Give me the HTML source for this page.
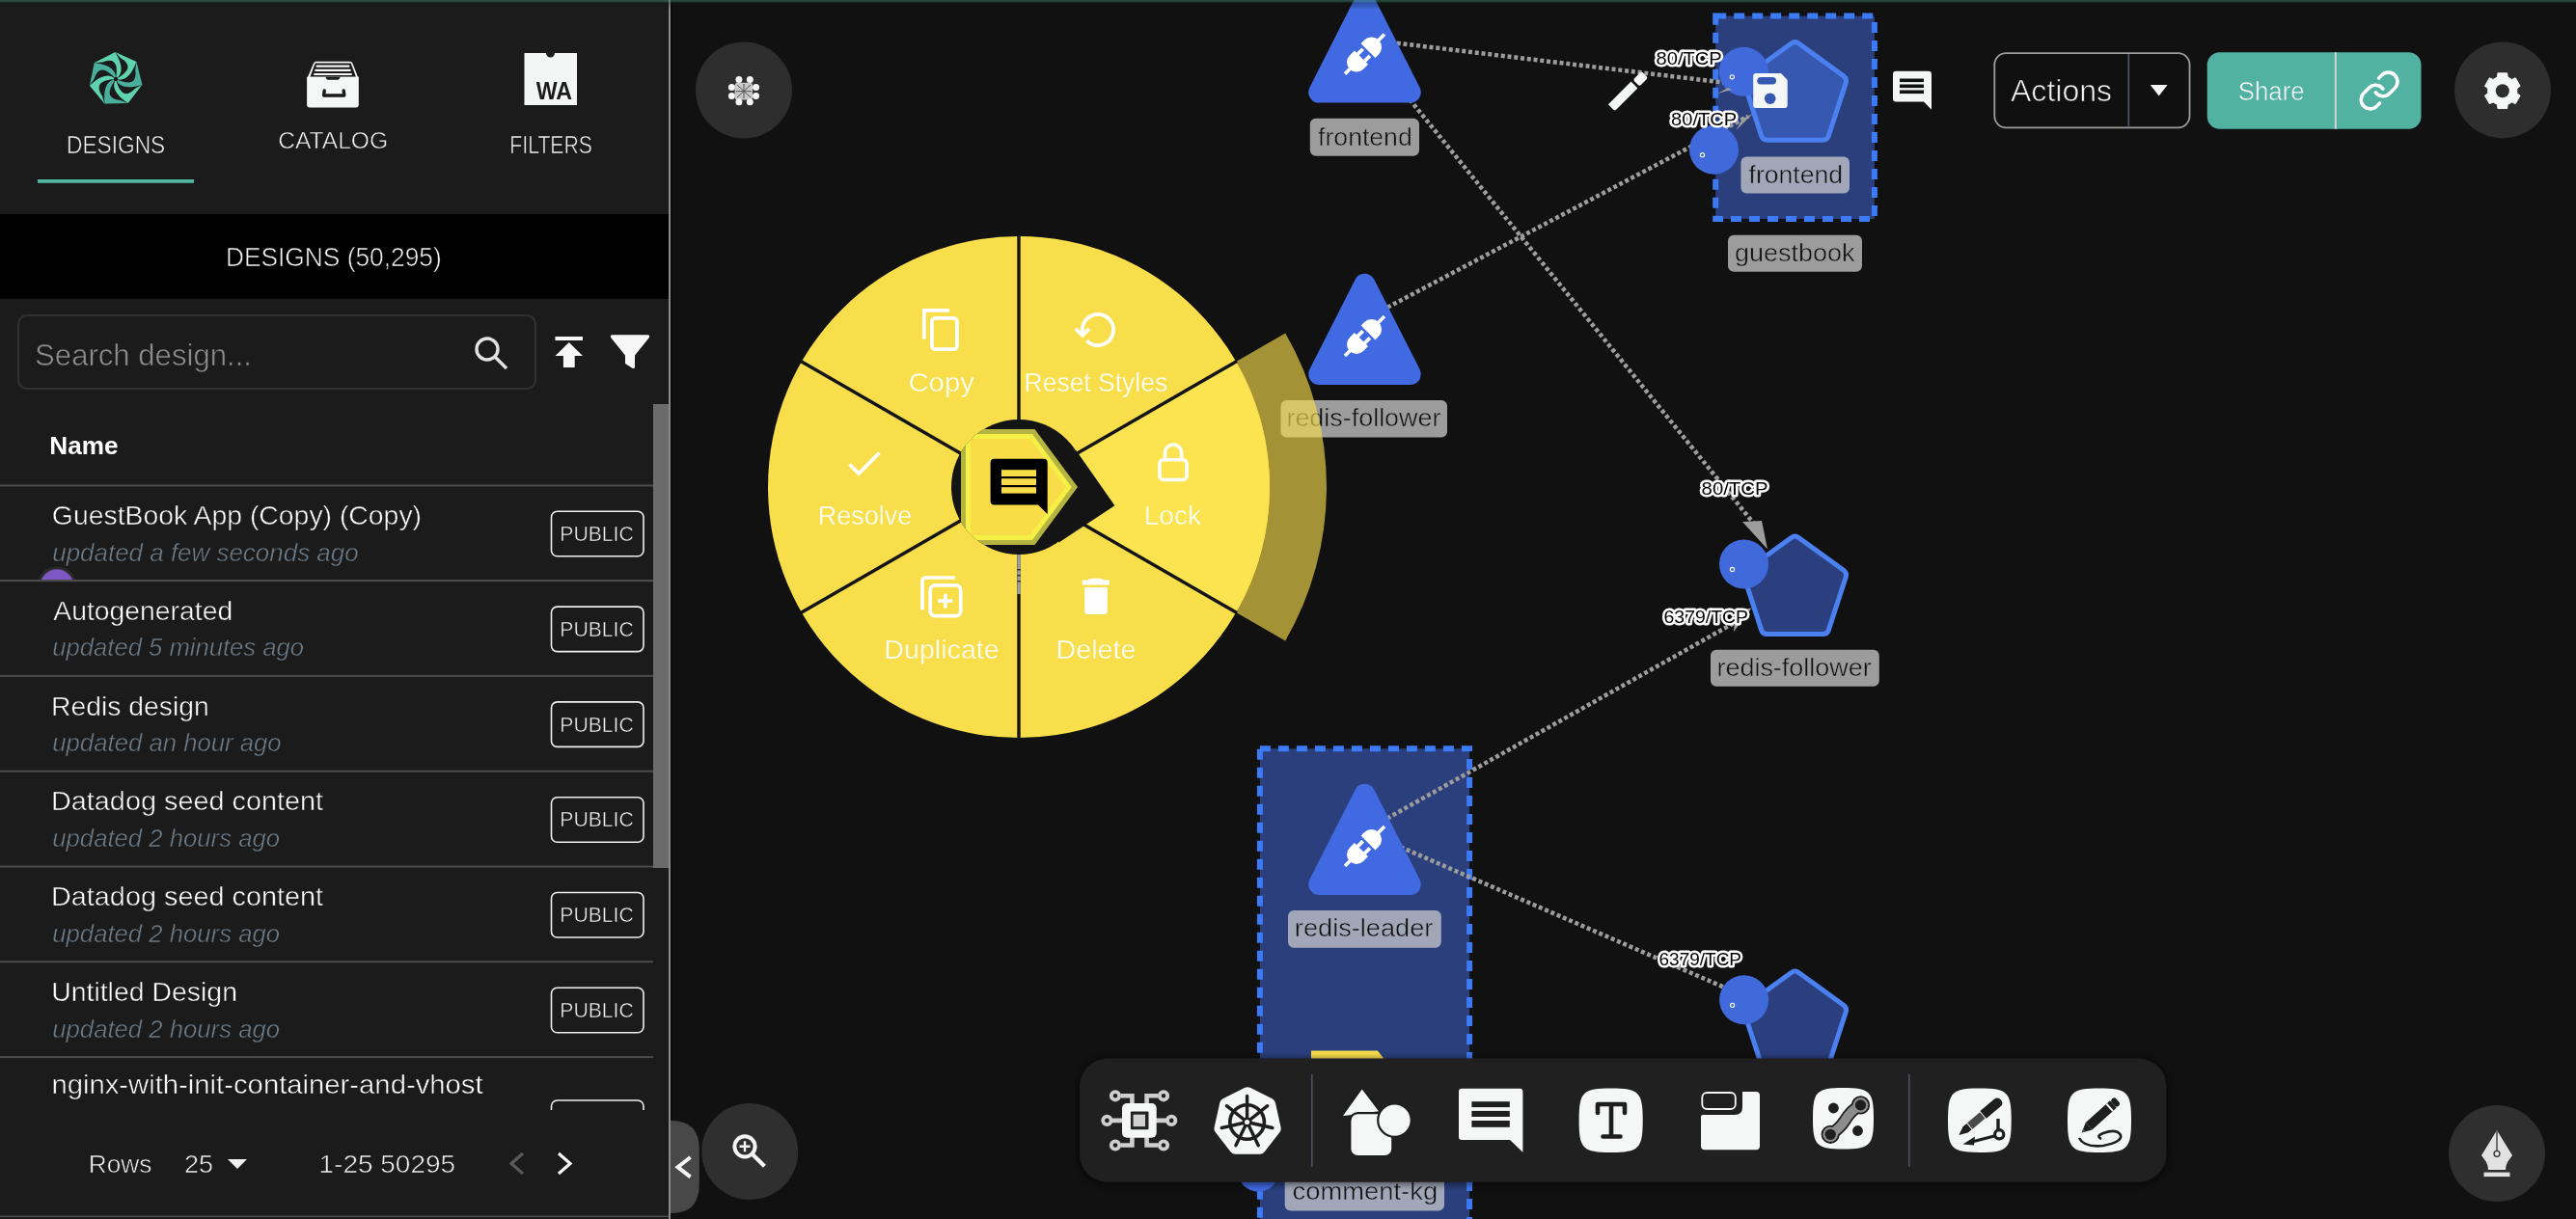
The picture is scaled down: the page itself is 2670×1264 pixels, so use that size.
<!DOCTYPE html>
<html><head><meta charset="utf-8"><title>Designs</title>
<style>
html,body{margin:0;padding:0;background:#111;width:2670px;height:1264px;overflow:hidden;}
svg{display:block;font-family:"Liberation Sans", sans-serif;will-change:transform;}
</style></head><body>
<svg width="2670" height="1264" viewBox="0 0 2670 1264">
<rect x="0" y="0" width="2670" height="1264" rx="0" fill="#111111" />
<rect x="0" y="0" width="693" height="1264" rx="0" fill="#1b1b1b" />
<path d="M120.0,82.0 Q134.0,72.6 119.4,54.0 L141.5,64.1 Q136.0,87.1 120.0,82.0Z" fill="#5fd3ad"/>
<path d="M120.0,82.0 Q136.0,87.1 141.5,64.1 L147.4,87.7 Q126.0,97.7 120.0,82.0Z" fill="#4aae9c"/>
<path d="M120.0,82.0 Q126.0,97.7 147.4,87.7 L132.7,107.0 Q111.5,96.5 120.0,82.0Z" fill="#5fd3ad"/>
<path d="M120.0,82.0 Q111.5,96.5 132.7,107.0 L108.4,107.5 Q103.4,84.4 120.0,82.0Z" fill="#4aae9c"/>
<path d="M120.0,82.0 Q103.4,84.4 108.4,107.5 L92.8,88.8 Q107.8,70.5 120.0,82.0Z" fill="#5fd3ad"/>
<path d="M120.0,82.0 Q107.8,70.5 92.8,88.8 L97.8,65.0 Q121.4,65.3 120.0,82.0Z" fill="#4aae9c"/>
<path d="M120.0,82.0 Q121.4,65.3 97.8,65.0 L119.4,54.0 Q134.0,72.6 120.0,82.0Z" fill="#5fd3ad"/>
<path d="M120.0,82.0 Q131.6,74.2 119.4,54.0 L125.1,60.2 Q142.2,70.1 120.0,82.0Z" fill="#1b1b1b"/>
<path d="M120.0,82.0 Q133.3,86.2 141.5,64.1 L140.2,72.4 Q143.1,92.0 120.0,82.0Z" fill="#1b1b1b"/>
<path d="M120.0,82.0 Q125.0,95.1 147.4,87.7 L140.1,91.8 Q126.6,106.3 120.0,82.0Z" fill="#1b1b1b"/>
<path d="M120.0,82.0 Q112.9,94.1 132.7,107.0 L124.9,103.9 Q105.1,102.3 120.0,82.0Z" fill="#1b1b1b"/>
<path d="M120.0,82.0 Q106.1,84.0 108.4,107.5 L105.9,99.4 Q94.8,83.1 120.0,82.0Z" fill="#1b1b1b"/>
<path d="M120.0,82.0 Q109.8,72.4 92.8,88.8 L97.6,81.9 Q103.5,63.0 120.0,82.0Z" fill="#1b1b1b"/>
<path d="M120.0,82.0 Q121.2,68.0 97.8,65.0 L106.1,64.4 Q124.6,57.2 120.0,82.0Z" fill="#1b1b1b"/>
<circle cx="120" cy="82" r="2.2" fill="#1b1b1b" />
<text x="68.98" y="159.1" font-size="25" fill="#f4f4f4" stroke="#1b1b1b" stroke-width="0.6" textLength="102.26" lengthAdjust="spacingAndGlyphs" >DESIGNS</text>
<rect x="39" y="186" width="162" height="3.8" rx="0" fill="#52b5a2" />
<path d="M324.8,66 Q325.5,63.7 328,63.7 L362.4,63.7 Q364.9,63.7 365.6,66 L371.8,82 L318.1,82 Z" fill="#f5f6f6"/>
<path d="M326.7,65.6 L363.7,65.6 L369,79.7 L321.4,79.7 Z" fill="#1b1b1b"/>
<g fill="#f5f6f6"><rect x="327.5" y="67.6" width="35" height="2.2" rx="1"/><rect x="326.2" y="71.8" width="37.6" height="2.2" rx="1"/><rect x="325" y="76" width="40" height="2.1" rx="1"/></g>
<path d="M318.1,79.7 L371.8,79.7 L371.8,108.4 Q371.8,111.4 368.8,111.4 L321.1,111.4 Q318.1,111.4 318.1,108.4 Z" fill="#f5f6f6"/>
<path d="M337.3,79.7 L352.8,79.7 L351.5,82 Q351,82.8 350,82.8 L340,82.8 Q339,82.8 338.5,82 Z" fill="#1b1b1b"/>
<path d="M336.2,94 L335.6,99 L356.8,99 L356.2,94" fill="none" stroke="#1b1b1b" stroke-width="3.4" stroke-linecap="round" stroke-linejoin="round"/>
<text x="288.17" y="153.5" font-size="24.5" fill="#f4f4f4" stroke="#1b1b1b" stroke-width="0.6" textLength="113.96" lengthAdjust="spacingAndGlyphs" >CATALOG</text>
<path d="M543.5,55 L566,55 A4.5,4.5 0 0 0 575,55 L598,55 L598,109 L543.5,109 Z" fill="#f4f5f5"/>
<text x="555.70" y="102.7" font-size="25.5" fill="#1b1b1b" textLength="37.30" lengthAdjust="spacingAndGlyphs" font-weight="bold" >WA</text>
<text x="528.30" y="159" font-size="25" fill="#f4f4f4" stroke="#1b1b1b" stroke-width="0.6" textLength="85.71" lengthAdjust="spacingAndGlyphs" >FILTERS</text>
<rect x="0" y="222" width="693" height="88" rx="0" fill="#000000" />
<text x="233.89" y="275.8" font-size="27.6" fill="#f4f4f4" stroke="#000" stroke-width="0.6" textLength="223.88" lengthAdjust="spacingAndGlyphs" >DESIGNS (50,295)</text>
<rect x="19" y="327" width="536" height="76" rx="9" fill="#1b1b1b" stroke="#303030" stroke-width="2.2"/>
<text x="36.10" y="378.8" font-size="31" fill="#8d8d8d" stroke="#1b1b1b" stroke-width="0.6" textLength="224.85" lengthAdjust="spacingAndGlyphs" >Search design...</text>
<g fill="none" stroke="#e2e2e2" stroke-width="3.4"><circle cx="505" cy="362" r="11"/><path d="M513,370 L525,382" stroke-linecap="butt"/></g>
<g fill="#f7f7f7"><rect x="575.5" y="349" width="28.5" height="4"/><path d="M589.75,355 L604,369 L595.7,369 L595.7,381 L583.9,381 L583.9,369 L575.5,369 Z"/></g>
<path d="M634,347.2 L672,347.2 Q674,348 672.5,350.5 L658,368.5 L658,380.5 Q657.5,383 655,381.5 L648,377 L648,368.5 L633.5,350.5 Q632,348 634,347.2 Z" fill="#f7f7f7"/>
<rect x="677" y="419" width="16" height="481" rx="0" fill="#6b6b6b" />
<text x="51.30" y="471.2" font-size="26.5" fill="#ffffff" textLength="71.28" lengthAdjust="spacingAndGlyphs" font-weight="bold" >Name</text>
<rect x="0" y="502.5" width="677" height="2" rx="0" fill="#4b4b4b" />
<clipPath id="tbl"><rect x="0" y="505" width="677" height="646"/></clipPath>
<g clip-path="url(#tbl)">
<text x="53.88" y="544.0" font-size="27.3" fill="#ffffff" stroke="#1b1b1b" stroke-width="0.5" textLength="383.16" lengthAdjust="spacingAndGlyphs" >GuestBook App (Copy) (Copy)</text>
<text x="54.26" y="581.6" font-size="25.5" fill="#6b7a86" stroke="#1b1b1b" stroke-width="0.45" textLength="317.36" lengthAdjust="spacingAndGlyphs" font-style="italic" >updated a few seconds ago</text>
<rect x="571.5" y="530.3" width="95.5" height="46.5" rx="6" fill="none" stroke="#f0f0f0" stroke-width="1.6"/>
<text x="580.31" y="560.9" font-size="22.8" fill="#f0f0f0" stroke="#1b1b1b" stroke-width="0.5" textLength="76.49" lengthAdjust="spacingAndGlyphs" >PUBLIC</text>
<rect x="0" y="601.1" width="677" height="2" rx="0" fill="#4b4b4b" />
<clipPath id="av"><rect x="0" y="560" width="200" height="41.1"/></clipPath>
<circle cx="59" cy="607.8" r="19" fill="#7e57c2" stroke="#2a2a2a" stroke-width="3" clip-path="url(#av)"/>
<text x="55.30" y="642.8000000000001" font-size="27.3" fill="#ffffff" stroke="#1b1b1b" stroke-width="0.5" textLength="185.88" lengthAdjust="spacingAndGlyphs" >Autogenerated</text>
<text x="54.27" y="680.4" font-size="25.5" fill="#6b7a86" stroke="#1b1b1b" stroke-width="0.45" textLength="260.78" lengthAdjust="spacingAndGlyphs" font-style="italic" >updated 5 minutes ago</text>
<rect x="571.5" y="629.1" width="95.5" height="46.5" rx="6" fill="none" stroke="#f0f0f0" stroke-width="1.6"/>
<text x="580.31" y="659.7" font-size="22.8" fill="#f0f0f0" stroke="#1b1b1b" stroke-width="0.5" textLength="76.49" lengthAdjust="spacingAndGlyphs" >PUBLIC</text>
<rect x="0" y="699.9" width="677" height="2" rx="0" fill="#4b4b4b" />
<text x="53.04" y="741.6" font-size="27.3" fill="#ffffff" stroke="#1b1b1b" stroke-width="0.5" textLength="163.64" lengthAdjust="spacingAndGlyphs" >Redis design</text>
<text x="54.27" y="779.1999999999999" font-size="25.5" fill="#6b7a86" stroke="#1b1b1b" stroke-width="0.45" textLength="237.42" lengthAdjust="spacingAndGlyphs" font-style="italic" >updated an hour ago</text>
<rect x="571.5" y="727.9" width="95.5" height="46.5" rx="6" fill="none" stroke="#f0f0f0" stroke-width="1.6"/>
<text x="580.31" y="758.5" font-size="22.8" fill="#f0f0f0" stroke="#1b1b1b" stroke-width="0.5" textLength="76.49" lengthAdjust="spacingAndGlyphs" >PUBLIC</text>
<rect x="0" y="798.6999999999999" width="677" height="2" rx="0" fill="#4b4b4b" />
<text x="52.99" y="840.4000000000001" font-size="27.3" fill="#ffffff" stroke="#1b1b1b" stroke-width="0.5" textLength="282.06" lengthAdjust="spacingAndGlyphs" >Datadog seed content</text>
<text x="54.27" y="878.0" font-size="25.5" fill="#6b7a86" stroke="#1b1b1b" stroke-width="0.45" textLength="235.79" lengthAdjust="spacingAndGlyphs" font-style="italic" >updated 2 hours ago</text>
<rect x="571.5" y="826.7" width="95.5" height="46.5" rx="6" fill="none" stroke="#f0f0f0" stroke-width="1.6"/>
<text x="580.31" y="857.3000000000001" font-size="22.8" fill="#f0f0f0" stroke="#1b1b1b" stroke-width="0.5" textLength="76.49" lengthAdjust="spacingAndGlyphs" >PUBLIC</text>
<rect x="0" y="897.5" width="677" height="2" rx="0" fill="#4b4b4b" />
<text x="52.99" y="939.2" font-size="27.3" fill="#ffffff" stroke="#1b1b1b" stroke-width="0.5" textLength="282.06" lengthAdjust="spacingAndGlyphs" >Datadog seed content</text>
<text x="54.27" y="976.8" font-size="25.5" fill="#6b7a86" stroke="#1b1b1b" stroke-width="0.45" textLength="235.79" lengthAdjust="spacingAndGlyphs" font-style="italic" >updated 2 hours ago</text>
<rect x="571.5" y="925.5" width="95.5" height="46.5" rx="6" fill="none" stroke="#f0f0f0" stroke-width="1.6"/>
<text x="580.31" y="956.1" font-size="22.8" fill="#f0f0f0" stroke="#1b1b1b" stroke-width="0.5" textLength="76.49" lengthAdjust="spacingAndGlyphs" >PUBLIC</text>
<rect x="0" y="996.3" width="677" height="2" rx="0" fill="#4b4b4b" />
<text x="53.17" y="1038.0" font-size="27.3" fill="#ffffff" stroke="#1b1b1b" stroke-width="0.5" textLength="192.82" lengthAdjust="spacingAndGlyphs" >Untitled Design</text>
<text x="54.27" y="1075.6" font-size="25.5" fill="#6b7a86" stroke="#1b1b1b" stroke-width="0.45" textLength="235.79" lengthAdjust="spacingAndGlyphs" font-style="italic" >updated 2 hours ago</text>
<rect x="571.5" y="1024.3" width="95.5" height="46.5" rx="6" fill="none" stroke="#f0f0f0" stroke-width="1.6"/>
<text x="580.31" y="1054.8999999999999" font-size="22.8" fill="#f0f0f0" stroke="#1b1b1b" stroke-width="0.5" textLength="76.49" lengthAdjust="spacingAndGlyphs" >PUBLIC</text>
<rect x="0" y="1095.1" width="677" height="2" rx="0" fill="#4b4b4b" />
<text x="53.40" y="1134.1" font-size="27.3" fill="#ffffff" stroke="#1b1b1b" stroke-width="0.5" textLength="447.20" lengthAdjust="spacingAndGlyphs" >nginx-with-init-container-and-vhost</text>
<rect x="571.5" y="1141.0" width="95.5" height="46.5" rx="6" fill="none" stroke="#f0f0f0" stroke-width="1.6"/>
</g>
<rect x="0" y="601.1" width="677" height="2" rx="0" fill="#4b4b4b" />
<text x="91.80" y="1216.3" font-size="26.5" fill="#f0f0f0" stroke="#1b1b1b" stroke-width="0.6" textLength="65.63" lengthAdjust="spacingAndGlyphs" >Rows</text>
<text x="191.05" y="1216.3" font-size="26.5" fill="#f0f0f0" stroke="#1b1b1b" stroke-width="0.6" textLength="30.10" lengthAdjust="spacingAndGlyphs" >25</text>
<polygon points="236.00,1202.00 256.00,1202.00 246.00,1212.00" fill="#f0f0f0" />
<text x="330.50" y="1216.3" font-size="26.5" fill="#f0f0f0" stroke="#1b1b1b" stroke-width="0.6" textLength="141.63" lengthAdjust="spacingAndGlyphs" >1-25 50295</text>
<path d="M542,1196 L530,1206.5 L542,1217" fill="none" stroke="#5a5a5a" stroke-width="3.2"/>
<path d="M579,1196 L591,1206.5 L579,1217" fill="none" stroke="#f5f5f5" stroke-width="3.2"/>
<rect x="0" y="1260.5" width="693" height="1.5" rx="0" fill="#4a4a4a" />
<rect x="693" y="0" width="2" height="1264" rx="0" fill="#8a8a8a" />
<rect x="695" y="0" width="2" height="1264" rx="0" fill="#0c0c0c" />
<circle cx="771" cy="93.5" r="50" fill="#2e2e2e" />
<rect x="761.6" y="85.8" width="18.4" height="17.8" rx="3" fill="#c8c8c8" />
<path d="M764,88 L778,101 M778,88 L764,101 M771,87 L771,102 M763,94.7 L779,94.7" stroke="#555" stroke-width="1"/>
<circle cx="765.9" cy="82.6" r="3.5" fill="#f5f5f5" />
<circle cx="777.3" cy="82.6" r="3.5" fill="#f5f5f5" />
<circle cx="758.4" cy="90.4" r="3.5" fill="#f5f5f5" />
<circle cx="783.5" cy="90.4" r="3.5" fill="#f5f5f5" />
<circle cx="758.4" cy="99.4" r="3.5" fill="#f5f5f5" />
<circle cx="783.5" cy="99.4" r="3.5" fill="#f5f5f5" />
<circle cx="765.9" cy="105.8" r="3.5" fill="#f5f5f5" />
<circle cx="777.3" cy="105.8" r="3.5" fill="#f5f5f5" />
<rect x="1778.2" y="16.6" width="164.7" height="210.4" fill="#2a3f7b" stroke="#3d7af5" stroke-width="6" stroke-dasharray="11 8"/>
<rect x="1305.9" y="776.3" width="217.2" height="520" fill="#2a3f7b" stroke="#3d7af5" stroke-width="6" stroke-dasharray="11 8"/>
<line x1="1414" y1="40.6" x2="1790" y2="86" stroke="#9d9d9d" stroke-width="4.5" stroke-dasharray="4 2.8" fill="none"/>
<line x1="1414" y1="45" x2="1826" y2="553" stroke="#9d9d9d" stroke-width="4.5" stroke-dasharray="4 2.8" fill="none"/>
<line x1="1414" y1="331.5" x2="1812" y2="120.5" stroke="#9d9d9d" stroke-width="4.5" stroke-dasharray="4 2.8" fill="none"/>
<line x1="1414" y1="862" x2="1806" y2="641" stroke="#9d9d9d" stroke-width="4.5" stroke-dasharray="4 2.8" fill="none"/>
<line x1="1414" y1="862" x2="1790" y2="1025" stroke="#9d9d9d" stroke-width="4.5" stroke-dasharray="4 2.8" fill="none"/>
<polygon points="1414.50,2.33 1461.79,95.60 1367.21,95.60" fill="#4169e1" stroke="#4169e1" stroke-width="22" stroke-linejoin="round" />
<g transform="translate(1414.5,56.099999999999994) rotate(-45) scale(1.0)" fill="#ffffff"><path d="M-5,-10 L-12,-10 A10,10 0 0 0 -12,10 L-5,10 Z"/><rect x="-29" y="-1.8" width="8" height="3.6"/><rect x="-5.5" y="-7" width="8" height="3.8"/><rect x="-5.5" y="3.2" width="8" height="3.8"/><path d="M5,-10.5 L10,-10.5 A10.5,10.5 0 0 1 10,10.5 L5,10.5 Z"/><rect x="19.5" y="-1.8" width="9.5" height="3.6"/></g>
<polygon points="1414.50,294.73 1461.79,388.00 1367.21,388.00" fill="#4169e1" stroke="#4169e1" stroke-width="22" stroke-linejoin="round" />
<g transform="translate(1414.5,348.5) rotate(-45) scale(1.0)" fill="#ffffff"><path d="M-5,-10 L-12,-10 A10,10 0 0 0 -12,10 L-5,10 Z"/><rect x="-29" y="-1.8" width="8" height="3.6"/><rect x="-5.5" y="-7" width="8" height="3.8"/><rect x="-5.5" y="3.2" width="8" height="3.8"/><path d="M5,-10.5 L10,-10.5 A10.5,10.5 0 0 1 10,10.5 L5,10.5 Z"/><rect x="19.5" y="-1.8" width="9.5" height="3.6"/></g>
<polygon points="1414.50,823.73 1461.79,917.00 1367.21,917.00" fill="#4169e1" stroke="#4169e1" stroke-width="22" stroke-linejoin="round" />
<g transform="translate(1414.5,877.5) rotate(-45) scale(1.0)" fill="#ffffff"><path d="M-5,-10 L-12,-10 A10,10 0 0 0 -12,10 L-5,10 Z"/><rect x="-29" y="-1.8" width="8" height="3.6"/><rect x="-5.5" y="-7" width="8" height="3.8"/><rect x="-5.5" y="3.2" width="8" height="3.8"/><path d="M5,-10.5 L10,-10.5 A10.5,10.5 0 0 1 10,10.5 L5,10.5 Z"/><rect x="19.5" y="-1.8" width="9.5" height="3.6"/></g>
<rect x="1357.8" y="122.7" width="113.20000000000005" height="38.999999999999986" rx="6" fill="#9b9c9b" />
<text x="1366.10" y="150.6" font-size="26" fill="#111111" stroke="#9b9c9b" stroke-width="0.5" textLength="97.62" lengthAdjust="spacingAndGlyphs" >frontend</text>
<rect x="1327.5" y="415" width="172.5" height="38.5" rx="6" fill="#9b9c9b" />
<text x="1333.45" y="442" font-size="26" fill="#111111" stroke="#9b9c9b" stroke-width="0.5" textLength="159.99" lengthAdjust="spacingAndGlyphs" >redis-follower</text>
<rect x="1773" y="673.7" width="174.79999999999995" height="38.0" rx="6" fill="#9b9c9b" />
<text x="1779.45" y="700.7" font-size="26" fill="#111111" stroke="#9b9c9b" stroke-width="0.5" textLength="160.30" lengthAdjust="spacingAndGlyphs" >redis-follower</text>
<rect x="1791" y="243.7" width="139" height="38.10000000000002" rx="6" fill="#9b9c9b" />
<text x="1797.92" y="270.7" font-size="26" fill="#111111" stroke="#9b9c9b" stroke-width="0.5" textLength="124.68" lengthAdjust="spacingAndGlyphs" >guestbook</text>
<rect x="1804.4" y="162.4" width="112.59999999999991" height="38.19999999999999" rx="6" fill="#a1a7b8" />
<text x="1812.60" y="189.5" font-size="26" fill="#111111" stroke="#a1a7b8" stroke-width="0.5" textLength="97.41" lengthAdjust="spacingAndGlyphs" >frontend</text>
<rect x="1335" y="944" width="158.79999999999995" height="38.799999999999955" rx="6" fill="#a1a7b8" />
<text x="1341.83" y="971.4" font-size="26" fill="#111111" stroke="#a1a7b8" stroke-width="0.5" textLength="143.59" lengthAdjust="spacingAndGlyphs" >redis-leader</text>
<rect x="1331.7" y="1215" width="165.29999999999995" height="40.40000000000009" rx="6" fill="#a1a7b8" />
<text x="1339.61" y="1243.8" font-size="26" fill="#111111" stroke="#a1a7b8" stroke-width="0.5" textLength="150.52" lengthAdjust="spacingAndGlyphs" >comment-kg</text>
<circle cx="1304.3" cy="1214.5" r="21.2" fill="#4169e1" />
<polygon points="1860.5,50.3 1907.0,84.1 1889.2,138.7 1831.8,138.7 1814.0,84.1" fill="#4a80f0" stroke="#4a80f0" stroke-width="18" stroke-linejoin="round"/>
<polygon points="1860.5,50.3 1907.0,84.1 1889.2,138.7 1831.8,138.7 1814.0,84.1" fill="#3658b0" stroke="#3658b0" stroke-width="8" stroke-linejoin="round"/>
<polygon points="1860.5,562.7 1907.0,596.5 1889.2,651.1 1831.8,651.1 1814.0,596.5" fill="#4a80f0" stroke="#4a80f0" stroke-width="18" stroke-linejoin="round"/>
<polygon points="1860.5,562.7 1907.0,596.5 1889.2,651.1 1831.8,651.1 1814.0,596.5" fill="#2b3f7e" stroke="#2b3f7e" stroke-width="8" stroke-linejoin="round"/>
<polygon points="1860.5,1013.7 1907.0,1047.5 1889.2,1102.1 1831.8,1102.1 1814.0,1047.5" fill="#4a80f0" stroke="#4a80f0" stroke-width="18" stroke-linejoin="round"/>
<polygon points="1860.5,1013.7 1907.0,1047.5 1889.2,1102.1 1831.8,1102.1 1814.0,1047.5" fill="#2b3f7e" stroke="#2b3f7e" stroke-width="8" stroke-linejoin="round"/>
<circle cx="1807.3" cy="74.3" r="25.5" fill="#406adc" />
<circle cx="1795.3" cy="79.8" r="2.1" fill="none" stroke="#fff" stroke-width="1.1"/>
<circle cx="1776.5" cy="155.2" r="25.5" fill="#406adc" />
<circle cx="1764.5" cy="160.7" r="2.1" fill="none" stroke="#fff" stroke-width="1.1"/>
<circle cx="1807.5" cy="585" r="25.5" fill="#406adc" />
<circle cx="1795.5" cy="590.5" r="2.1" fill="none" stroke="#fff" stroke-width="1.1"/>
<circle cx="1807.6" cy="1036.8" r="25.5" fill="#406adc" />
<circle cx="1795.6" cy="1042.3" r="2.1" fill="none" stroke="#fff" stroke-width="1.1"/>
<polygon points="1806.00,541.00 1832.00,569.60 1826.00,540.00" fill="#9d9d9d" />
<polygon points="1797.00,655.00 1815.60,630.50 1799.00,633.00" fill="#9d9d9d" />
<polygon points="1780.00,97.00 1791.00,91.00 1795.00,93.00" fill="#9d9d9d" />
<polygon points="1799.50,135.00 1816.70,118.00 1806.00,123.00" fill="#9d9d9d" />
<path d="M1817.2,79 Q1817.2,76 1820.2,76 L1846,76 L1852.7,83 L1852.7,109.1 Q1852.7,112.1 1849.7,112.1 L1820.2,112.1 Q1817.2,112.1 1817.2,109.1 Z" fill="#f5f6f6"/>
<rect x="1821.3" y="80" width="19.7" height="7.6" rx="3.8" fill="#3658b0" />
<circle cx="1834.7" cy="102.2" r="5.8" fill="#3658b0" />
<polygon points="1359.00,1089.50 1428.00,1089.50 1436.00,1100.00 1359.00,1100.00" fill="#f9de4c" />
<text x="1716.49" y="66.8" font-size="19" fill="#000" textLength="68.32" lengthAdjust="spacingAndGlyphs" stroke="#fff" stroke-width="5" paint-order="stroke" stroke-linejoin="round" font-weight="500">80/TCP</text>
<text x="1732.10" y="130" font-size="19" fill="#000" textLength="68.11" lengthAdjust="spacingAndGlyphs" stroke="#fff" stroke-width="5" paint-order="stroke" stroke-linejoin="round" font-weight="500">80/TCP</text>
<text x="1763.58" y="513" font-size="19" fill="#000" textLength="68.94" lengthAdjust="spacingAndGlyphs" stroke="#fff" stroke-width="5" paint-order="stroke" stroke-linejoin="round" font-weight="500">80/TCP</text>
<text x="1724.53" y="646" font-size="19" fill="#000" textLength="87.49" lengthAdjust="spacingAndGlyphs" stroke="#fff" stroke-width="5" paint-order="stroke" stroke-linejoin="round" font-weight="500">6379/TCP</text>
<text x="1719.55" y="1000.5" font-size="19" fill="#000" textLength="85.45" lengthAdjust="spacingAndGlyphs" stroke="#fff" stroke-width="5" paint-order="stroke" stroke-linejoin="round" font-weight="500">6379/TCP</text>
<g transform="translate(1688,94) rotate(-45)" fill="#f5f6f6"><path d="M-25,-4.8 L8.5,-4.8 L8.5,4.8 L-23,4.8 Q-25,4.8 -25,2.8Z"/><rect x="11.2" y="-4.8" width="12.5" height="9.6" rx="2.2"/></g>
<path d="M1962,77 Q1962,73.8 1965,73.8 L1999,73.8 Q2002,73.8 2002,77 L2002,113.7 L1994,105.5 L1965,105.5 Q1962,105.5 1962,102.5 Z" fill="#f5f6f6"/>
<rect x="1969" y="81.5" width="25" height="3.6" rx="0" fill="#111" />
<rect x="1969" y="87.5" width="25" height="3.6" rx="0" fill="#111" />
<rect x="1969" y="93.5" width="25" height="3.6" rx="0" fill="#111" />
<circle cx="1056" cy="505" r="260" fill="#f9de4c" />
<path d="M1056,505 L1281.17,375.00 A260,260 0 0 1 1281.17,635.00 Z" fill="#fbe450"/>
<path d="M1280.30,375.50 L1332.26,345.50 A319,319 0 0 1 1332.26,664.50 L1280.30,634.50 A259,259 0 0 0 1280.30,375.50 Z" fill="rgb(249,222,76)" fill-opacity="0.63"/>
<line x1="1056" y1="505" x2="1282.03" y2="635.50" stroke="#141414" stroke-width="3.4"/>
<line x1="1056" y1="505" x2="1056.00" y2="766.00" stroke="#141414" stroke-width="3.4"/>
<line x1="1056" y1="505" x2="829.97" y2="635.50" stroke="#141414" stroke-width="3.4"/>
<line x1="1056" y1="505" x2="829.97" y2="374.50" stroke="#141414" stroke-width="3.4"/>
<line x1="1056" y1="505" x2="1056.00" y2="244.00" stroke="#141414" stroke-width="3.4"/>
<line x1="1056" y1="505" x2="1282.03" y2="374.50" stroke="#141414" stroke-width="3.4"/>
<rect x="1054.4" y="574" width="3.4" height="42" rx="0" fill="#9d9d9d" />
<rect x="1054.4" y="590" width="3.4" height="1.5" rx="0" fill="#333" />
<rect x="1054.4" y="596" width="3.4" height="1.5" rx="0" fill="#333" />
<rect x="1054.4" y="602" width="3.4" height="1.5" rx="0" fill="#333" />
<circle cx="1056" cy="505" r="70" fill="#141414"/>
<polygon points="1115.20,466.80 1155.40,524.20 1097.20,562.70" fill="#141414" />
<clipPath id="cc"><circle cx="1056" cy="505" r="70"/></clipPath>
<g clip-path="url(#cc)">
<polygon points="996.00,445.00 1072.50,445.00 1117.00,505.00 1072.50,565.00 996.00,565.00" fill="#b5b443" />
<polygon points="1001.00,450.00 1069.98,450.00 1110.77,505.00 1069.98,560.00 1001.00,560.00" fill="#f5ef46" />
<polygon points="1006.00,455.00 1067.47,455.00 1104.55,505.00 1067.47,555.00 1006.00,555.00" fill="#f8dc48" />
</g>
<path d="M1030.6,475.8 L1081.7,475.8 Q1085.7,475.8 1085.7,479.8 L1085.7,533 L1076,523.4 L1030.6,523.4 Q1026.6,523.4 1026.6,519.4 L1026.6,479.8 Q1026.6,475.8 1030.6,475.8 Z" fill="#000"/>
<rect x="1038" y="487.2" width="36" height="6.800000000000011" rx="0" fill="#f8dc48" />
<rect x="1038" y="496.2" width="36" height="6.800000000000011" rx="0" fill="#f8dc48" />
<rect x="1038" y="505.2" width="36" height="6.400000000000034" rx="0" fill="#f8dc48" />
<g fill="none" stroke="#fff" stroke-width="3.7"><path d="M957.8,351.6 L957.8,321.8 L983.9,321.8"/><rect x="965.9" y="329.9" width="26" height="32.2" rx="3.5"/></g>
<text x="941.43" y="405.6" font-size="27.8" fill="#ffffff" stroke="#f9de4c" stroke-width="0.4" textLength="68.45" lengthAdjust="spacingAndGlyphs" >Copy</text>
<g fill="none" stroke="#fff" stroke-width="3.8"><path d="M1121.90,345.00 L1121.90,342.00 A16.1,16.1 0 1 1 1126.62,353.38"/><path d="M1115,340.8 L1122,347.8 L1129,340.8"/></g>
<text x="1061.58" y="405.8" font-size="27.8" fill="#ffffff" stroke="#f9de4c" stroke-width="0.4" textLength="148.60" lengthAdjust="spacingAndGlyphs" >Reset Styles</text>
<path d="M880.5,481.5 L890.1,491 L911.5,469.5" fill="none" stroke="#fff" stroke-width="3.8"/>
<text x="847.64" y="544" font-size="27.8" fill="#ffffff" stroke="#f9de4c" stroke-width="0.4" textLength="97.76" lengthAdjust="spacingAndGlyphs" >Resolve</text>
<g fill="none" stroke="#fff" stroke-width="3.5"><path d="M1207.5,476 L1207.5,469.5 A8.6,8.6 0 0 1 1224.7,469.5 L1224.7,476"/><rect x="1202" y="476.7" width="28" height="20.8" rx="4"/></g>
<text x="1185.76" y="544" font-size="27.8" fill="#ffffff" stroke="#fbe450" stroke-width="0.4" textLength="59.21" lengthAdjust="spacingAndGlyphs" >Lock</text>
<g fill="none" stroke="#fff" stroke-width="3.7"><path d="M956,632.4 L956,603 Q956,599 960,599 L989.7,599"/><rect x="964.2" y="606.9" width="31.5" height="31.8" rx="5"/><path d="M972.4,623.1 L987.2,623.1 M979.8,615.7 L979.8,630.5"/></g>
<text x="916.31" y="683.1" font-size="27.8" fill="#ffffff" stroke="#f9de4c" stroke-width="0.4" textLength="119.45" lengthAdjust="spacingAndGlyphs" >Duplicate</text>
<g fill="#fff"><rect x="1121.8" y="601.5" width="28" height="5" /><rect x="1128.5" y="599.8" width="14.5" height="3" rx="1.5"/><path d="M1124.2,609 L1147.8,609 L1147.8,633.5 Q1147.8,637 1144.3,637 L1127.7,637 Q1124.2,637 1124.2,633.5 Z"/></g>
<text x="1094.50" y="683.1" font-size="27.8" fill="#ffffff" stroke="#f9de4c" stroke-width="0.4" textLength="83.01" lengthAdjust="spacingAndGlyphs" >Delete</text>
<rect x="2067.3" y="55.1" width="202.2" height="77.2" rx="12" fill="#101010" stroke="#9c9c9c" stroke-width="1.8"/>
<rect x="2205.4" y="56" width="1.8" height="75.5" rx="0" fill="#4b5263" />
<text x="2084.00" y="105" font-size="31" fill="#f5f5f5" stroke="#101010" stroke-width="0.7" textLength="105.10" lengthAdjust="spacingAndGlyphs" >Actions</text>
<polygon points="2228.80,88.00 2246.60,88.00 2237.70,99.50" fill="#f5f5f5" />
<rect x="2287.7" y="54.2" width="221.8" height="79.5" rx="13" fill="#52b2a2" />
<rect x="2419.8" y="54.2" width="2" height="79.5" rx="0" fill="#cfd6d4" />
<text x="2319.84" y="104" font-size="28.5" fill="#ffffff" stroke="#52b2a2" stroke-width="0.6" textLength="68.71" lengthAdjust="spacingAndGlyphs" >Share</text>
<g transform="translate(2443.30,71.20) scale(1.9)" fill="none" stroke="#fff" stroke-width="1.85" stroke-linecap="round" stroke-linejoin="round"><path d="M10 13a5 5 0 0 0 7.54.54l3-3a5 5 0 0 0-7.07-7.07l-1.72 1.71"/><path d="M14 11a5 5 0 0 0-7.54-.54l-3 3a5 5 0 0 0 7.07 7.07l1.71-1.71"/></g>
<circle cx="2594" cy="93.4" r="50" fill="#2e2e2e" />
<path d="M2588.45,79.97 L2588.92,75.84 L2598.68,75.84 L2599.15,79.97 L2603.44,82.45 L2607.26,80.79 L2612.14,89.25 L2608.80,91.72 L2608.80,96.68 L2612.14,99.15 L2607.26,107.61 L2603.44,105.95 L2599.15,108.43 L2598.68,112.56 L2588.92,112.56 L2588.45,108.43 L2584.16,105.95 L2580.34,107.61 L2575.46,99.15 L2578.80,96.68 L2578.80,91.72 L2575.46,89.25 L2580.34,80.79 L2584.16,82.45Z" fill="#f5f6f6" stroke="#f5f6f6" stroke-width="1" stroke-linejoin="round"/>
<circle cx="2593.8" cy="94.2" r="15.2" fill="#f5f6f6" />
<circle cx="2593.8" cy="94.2" r="7" fill="#2e2e2e" />
<path d="M695,1162 L696,1162 Q724.8,1162 724.8,1192 L724.8,1228 Q724.8,1258 696,1258 L695,1258 Z" fill="#484848"/>
<path d="M715.6,1200 L702.5,1210.2 L715.6,1220.4" fill="none" stroke="#f5f5f5" stroke-width="4"/>
<circle cx="777.2" cy="1194" r="50" fill="#2f2f2f" />
<g fill="none" stroke="#f5f5f5"><circle cx="772" cy="1188.8" r="10.6" stroke-width="4"/><line x1="780" y1="1197" x2="792.4" y2="1209.2" stroke-width="4.2"/><path d="M766.5,1188.8 L777.5,1188.8 M772,1183.3 L772,1194.3" stroke-width="2.4"/></g>
<circle cx="2588" cy="1196" r="50" fill="#2f2f2f" />
<path d="M2588,1172 L2604,1198 L2599,1205 Q2597,1209 2597,1213 L2579,1213 Q2579,1209 2577,1205 L2572,1198 Z" fill="#e2e2e2"/>
<line x1="2588" y1="1173" x2="2588" y2="1193" stroke="#2f2f2f" stroke-width="1.3"/><circle cx="2588" cy="1196.3" r="3" fill="#e2e2e2" stroke="#2f2f2f" stroke-width="1.3"/>
<rect x="2574.5" y="1215.6" width="27" height="4.5" rx="0" fill="#e2e2e2" />
<defs><filter id="tbs" x="-5%" y="-20%" width="110%" height="140%"><feGaussianBlur stdDeviation="3"/></filter></defs>
<rect x="1117" y="1097" width="1131" height="132" rx="30" fill="#000" opacity="0.45" filter="url(#tbs)"/>
<rect x="1119" y="1097.5" width="1126.5" height="128.2" rx="29" fill="#202020" />
<rect x="1359" y="1114" width="1.6" height="96" rx="0" fill="#4a5160" />
<rect x="1978" y="1114" width="1.6" height="96" rx="0" fill="#4a5160" />
<g fill="none" stroke="#cfcfcf" stroke-width="4.6"><path d="M1162,1136.3 L1173.4,1136.3 L1173.4,1146 M1200,1136.3 L1188.6,1136.3 L1188.6,1146"/><path d="M1162,1187.5 L1173.4,1187.5 L1173.4,1178 M1200,1187.5 L1188.6,1187.5 L1188.6,1178"/><path d="M1153,1161.9 L1165,1161.9 M1197,1161.9 L1209,1161.9"/></g>
<circle cx="1156" cy="1136.3" r="4.2" fill="#1e1e1e" stroke="#cfcfcf" stroke-width="3.8"/>
<circle cx="1206" cy="1136.3" r="4.2" fill="#1e1e1e" stroke="#cfcfcf" stroke-width="3.8"/>
<circle cx="1147.4" cy="1161.9" r="4.2" fill="#1e1e1e" stroke="#cfcfcf" stroke-width="3.8"/>
<circle cx="1214.2" cy="1161.9" r="4.2" fill="#1e1e1e" stroke="#cfcfcf" stroke-width="3.8"/>
<circle cx="1156" cy="1187.5" r="4.2" fill="#1e1e1e" stroke="#cfcfcf" stroke-width="3.8"/>
<circle cx="1206" cy="1187.5" r="4.2" fill="#1e1e1e" stroke="#cfcfcf" stroke-width="3.8"/>
<rect x="1163" y="1144" width="35.7" height="35.8" rx="5" fill="#f5f6f6" />
<rect x="1171.9" y="1152.6" width="18.6" height="18.6" rx="1" fill="#222" />
<rect x="1174.6" y="1155.7" width="12.4" height="12.4" rx="0" fill="#d0d0d0" />
<polygon points="1293.10,1133.19 1316.01,1144.53 1321.73,1170.28 1305.78,1190.84 1280.42,1190.84 1264.47,1170.28 1270.19,1144.53" fill="#f5f6f6" stroke="#f5f6f6" stroke-width="12" stroke-linejoin="round" />
<circle cx="1292.6" cy="1163.5" r="17.8" fill="none" stroke="#1e1e1e" stroke-width="3.6"/>
<line x1="1292.6" y1="1163.5" x2="1292.6" y2="1136.5" stroke="#1e1e1e" stroke-width="3.4" stroke-linecap="round"/>
<line x1="1292.6" y1="1163.5" x2="1313.7" y2="1146.7" stroke="#1e1e1e" stroke-width="3.4" stroke-linecap="round"/>
<line x1="1292.6" y1="1163.5" x2="1318.9" y2="1169.5" stroke="#1e1e1e" stroke-width="3.4" stroke-linecap="round"/>
<line x1="1292.6" y1="1163.5" x2="1304.3" y2="1187.8" stroke="#1e1e1e" stroke-width="3.4" stroke-linecap="round"/>
<line x1="1292.6" y1="1163.5" x2="1280.9" y2="1187.8" stroke="#1e1e1e" stroke-width="3.4" stroke-linecap="round"/>
<line x1="1292.6" y1="1163.5" x2="1266.3" y2="1169.5" stroke="#1e1e1e" stroke-width="3.4" stroke-linecap="round"/>
<line x1="1292.6" y1="1163.5" x2="1271.5" y2="1146.7" stroke="#1e1e1e" stroke-width="3.4" stroke-linecap="round"/>
<circle cx="1292.6" cy="1163.5" r="5" fill="#1e1e1e" />
<circle cx="1292.6" cy="1163.5" r="2.6" fill="#f5f6f6" />
<g fill="#f5f6f6" stroke="#1e1e1e" stroke-width="2.2" stroke-linejoin="round"><path d="M1411.7,1127.5 L1431,1153 L1389.5,1158.5 Z"/><rect x="1399.3" y="1154.2" width="44" height="45" rx="8"/><circle cx="1445.5" cy="1161.6" r="17.3"/></g>
<path d="M1515,1128.7 L1575.4,1128.7 Q1578.4,1128.7 1578.4,1131.7 L1578.4,1194.7 L1565,1181.9 L1515,1181.9 Q1512,1181.9 1512,1178.9 L1512,1131.7 Q1512,1128.7 1515,1128.7 Z" fill="#f5f6f6"/>
<rect x="1525.4" y="1142.2" width="39.4" height="5.899999999999864" rx="0" fill="#1e1e1e" />
<rect x="1525.4" y="1151.9" width="39.4" height="6.099999999999909" rx="0" fill="#1e1e1e" />
<rect x="1525.4" y="1162" width="39.4" height="6.7999999999999545" rx="0" fill="#1e1e1e" />
<path d="M1669.65,1128.6 C1698.734,1128.6 1702.7,1132.5839999999998 1702.7,1161.8 C1702.7,1191.016 1698.734,1195 1669.65,1195 C1640.5659999999998,1195 1636.6,1191.016 1636.6,1161.8 C1636.6,1132.5839999999998 1640.5659999999998,1128.6 1669.65,1128.6 Z" fill="#f5f6f6"/>
<g fill="none" stroke="#1e1e1e" stroke-width="4.6" stroke-linecap="round" stroke-linejoin="round"><path d="M1656,1154 L1656,1145 L1684,1145 L1684,1154 M1670,1145 L1670,1178.5 M1661.5,1178.5 L1679.5,1178.5"/></g>
<path d="M1763,1158 L1763,1188.5 Q1763,1192.2 1767,1192.2 L1820,1192.2 Q1824,1192.2 1824,1188.5 L1824,1136 Q1824,1132 1820,1132 L1806,1132 L1806,1148 Q1806,1156 1798,1156 L1765,1156 Q1763,1156 1763,1158 Z" fill="#f5f6f6"/>
<rect x="1764.3" y="1133" width="34.5" height="17" rx="5" fill="none" stroke="#f5f6f6" stroke-width="1.8"/>
<path d="M1910.5,1128 C1938.22,1128 1942,1131.81 1942,1159.75 C1942,1187.69 1938.22,1191.5 1910.5,1191.5 C1882.78,1191.5 1879,1187.69 1879,1159.75 C1879,1131.81 1882.78,1128 1910.5,1128 Z" fill="#f5f6f6"/>
<circle cx="1900.4" cy="1149" r="5.4" fill="#1e1e1e" />
<circle cx="1925.5" cy="1172.5" r="5.4" fill="#1e1e1e" />
<path d="M1897.2,1176.3 C1904,1172 1909,1167 1912.5,1161.5 C1916,1155.5 1921,1150 1928.5,1145.9" fill="none" stroke="#1e1e1e" stroke-width="13" stroke-linecap="round"/>
<circle cx="1897.2" cy="1176.3" r="9.6" fill="#1e1e1e" />
<circle cx="1928.5" cy="1145.9" r="9.6" fill="#1e1e1e" />
<path d="M1897.2,1176.3 C1904,1172 1909,1167 1912.5,1161.5 C1916,1155.5 1921,1150 1928.5,1145.9" fill="none" stroke="#8c8c8c" stroke-width="9.5" stroke-linecap="round"/>
<circle cx="1897.2" cy="1176.3" r="7.8" fill="#8c8c8c" />
<circle cx="1928.5" cy="1145.9" r="7.8" fill="#8c8c8c" />
<circle cx="1897.2" cy="1176.3" r="5.6" fill="#1e1e1e" />
<circle cx="1928.5" cy="1145.9" r="5.6" fill="#1e1e1e" />
<path d="M2051.85,1128.5 C2080.758,1128.5 2084.7,1132.49 2084.7,1161.75 C2084.7,1191.01 2080.758,1195 2051.85,1195 C2022.942,1195 2019,1191.01 2019,1161.75 C2019,1132.49 2022.942,1128.5 2051.85,1128.5 Z" fill="#f5f6f6"/>
<g transform="translate(2030.3,1177.1) rotate(-40)"><path d="M0,0 L9,-4 L14,-4 L14,4 L9,4 Z" fill="#1e1e1e"/><rect x="15" y="-4.2" width="17" height="8.4" fill="#4a4a4a"/><path d="M33,-5 L52,-5 Q57,-5 57,0 Q57,5 52,5 L33,5 Z" fill="#1e1e1e"/></g>
<g stroke="#1e1e1e" fill="none"><line x1="2040" y1="1185" x2="2067" y2="1178" stroke-width="3"/><line x1="2071" y1="1160" x2="2071" y2="1171" stroke-width="3.4"/><circle cx="2072.2" cy="1176.3" r="4.6" fill="#f5f6f6" stroke-width="3.2"/></g>
<polygon points="2034.50,1186.50 2047.00,1178.50 2046.00,1187.50" fill="#1e1e1e" />
<path d="M2176.0,1128.6 C2205.04,1128.6 2209,1132.5839999999998 2209,1161.8 C2209,1191.016 2205.04,1195 2176.0,1195 C2146.96,1195 2143,1191.016 2143,1161.8 C2143,1132.5839999999998 2146.96,1128.6 2176.0,1128.6 Z" fill="#f5f6f6"/>
<g transform="translate(2177,1157) rotate(-42)"><rect x="-16" y="-5" width="34" height="10" fill="#1e1e1e"/><rect x="12" y="-5" width="2" height="10" fill="#f5f6f6"/><rect x="18" y="-5" width="6" height="10" rx="3" fill="#1e1e1e"/><path d="M-16,-5 L-26,0 L-16,5Z" fill="#1e1e1e"/><path d="M-22,-2 L-26,0 L-22,2Z" fill="#555"/></g>
<path d="M2155,1180 Q2160,1190 2180,1188 Q2200,1184 2198,1177 Q2194,1170 2180,1175 Q2172,1178 2178,1181" fill="none" stroke="#1e1e1e" stroke-width="2.6"/>
<defs><linearGradient id="tl" x1="0" y1="0" x2="0" y2="1"><stop offset="0" stop-color="rgb(54,126,104)" stop-opacity="0.56"/><stop offset="0.12" stop-color="rgb(54,126,104)" stop-opacity="0.5"/><stop offset="0.32" stop-color="rgb(10,30,25)" stop-opacity="0.3"/><stop offset="1" stop-color="#000" stop-opacity="0"/></linearGradient></defs>
<rect x="0" y="0" width="2670" height="10" rx="0" fill="url(#tl)" />
</svg>
</body></html>
